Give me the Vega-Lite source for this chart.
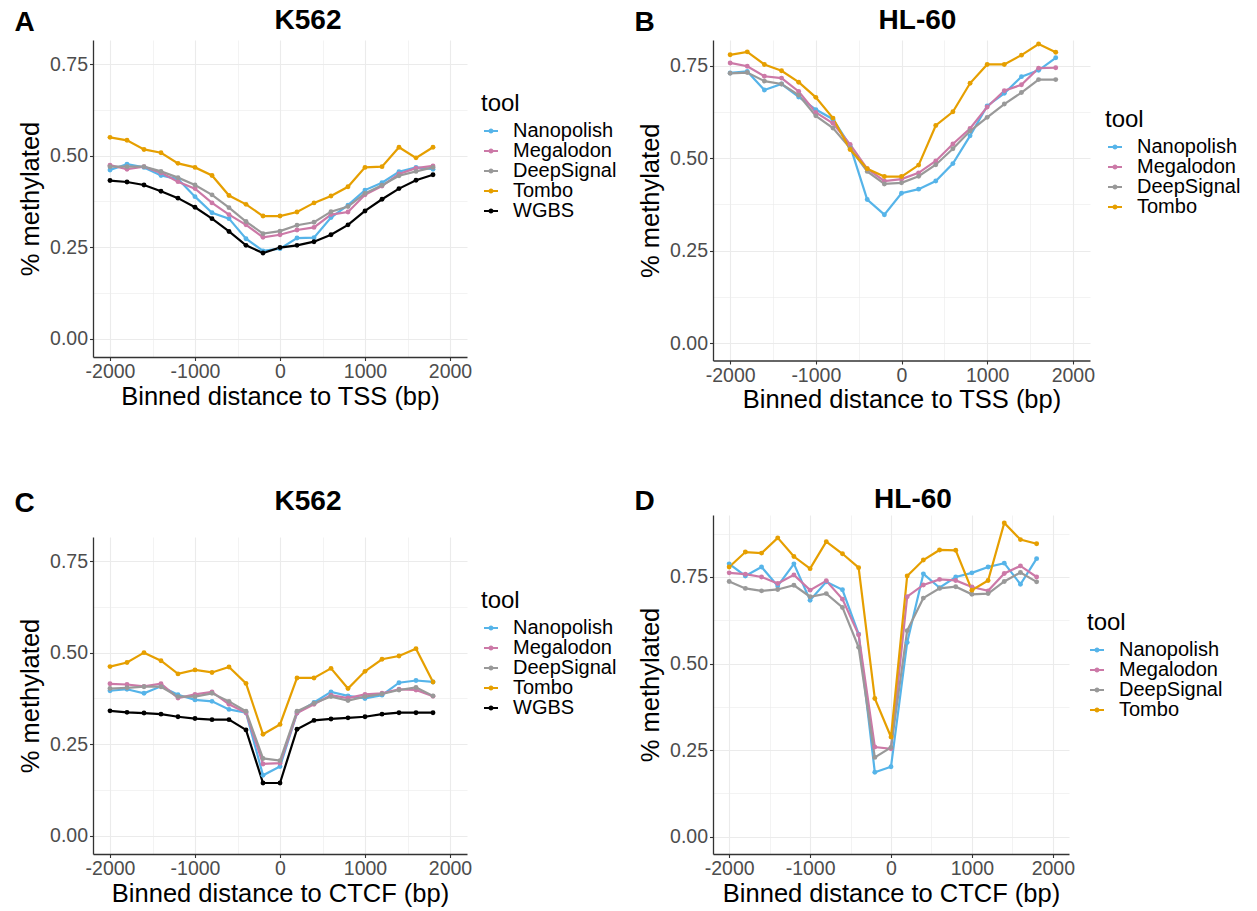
{
  "$schema": "https://vega.github.io/schema/vega-lite/v6.json",
  "padding": {"left": 14, "top": 6, "right": 0, "bottom": 0},
  "datasets": {
    "A": [
      {"dist":-2000,"tool":"Nanopolish","meth":0.461},{"dist":-1800,"tool":"Nanopolish","meth":0.477},{"dist":-1600,"tool":"Nanopolish","meth":0.468},{"dist":-1400,"tool":"Nanopolish","meth":0.446},{"dist":-1200,"tool":"Nanopolish","meth":0.436},{"dist":-1000,"tool":"Nanopolish","meth":0.388},{"dist":-800,"tool":"Nanopolish","meth":0.344},{"dist":-600,"tool":"Nanopolish","meth":0.328},{"dist":-400,"tool":"Nanopolish","meth":0.273},{"dist":-200,"tool":"Nanopolish","meth":0.240},{"dist":0,"tool":"Nanopolish","meth":0.246},{"dist":200,"tool":"Nanopolish","meth":0.275},{"dist":400,"tool":"Nanopolish","meth":0.276},{"dist":600,"tool":"Nanopolish","meth":0.331},{"dist":800,"tool":"Nanopolish","meth":0.365},{"dist":1000,"tool":"Nanopolish","meth":0.406},{"dist":1200,"tool":"Nanopolish","meth":0.426},{"dist":1400,"tool":"Nanopolish","meth":0.456},{"dist":1600,"tool":"Nanopolish","meth":0.468},{"dist":1800,"tool":"Nanopolish","meth":0.463},
      {"dist":-2000,"tool":"Megalodon","meth":0.474},{"dist":-1800,"tool":"Megalodon","meth":0.463},{"dist":-1600,"tool":"Megalodon","meth":0.470},{"dist":-1400,"tool":"Megalodon","meth":0.453},{"dist":-1200,"tool":"Megalodon","meth":0.429},{"dist":-1000,"tool":"Megalodon","meth":0.410},{"dist":-800,"tool":"Megalodon","meth":0.371},{"dist":-600,"tool":"Megalodon","meth":0.339},{"dist":-400,"tool":"Megalodon","meth":0.311},{"dist":-200,"tool":"Megalodon","meth":0.277},{"dist":0,"tool":"Megalodon","meth":0.284},{"dist":200,"tool":"Megalodon","meth":0.297},{"dist":400,"tool":"Megalodon","meth":0.304},{"dist":600,"tool":"Megalodon","meth":0.339},{"dist":800,"tool":"Megalodon","meth":0.346},{"dist":1000,"tool":"Megalodon","meth":0.393},{"dist":1200,"tool":"Megalodon","meth":0.417},{"dist":1400,"tool":"Megalodon","meth":0.450},{"dist":1600,"tool":"Megalodon","meth":0.466},{"dist":1800,"tool":"Megalodon","meth":0.472},
      {"dist":-2000,"tool":"DeepSignal","meth":0.470},{"dist":-1800,"tool":"DeepSignal","meth":0.470},{"dist":-1600,"tool":"DeepSignal","meth":0.470},{"dist":-1400,"tool":"DeepSignal","meth":0.457},{"dist":-1200,"tool":"DeepSignal","meth":0.440},{"dist":-1000,"tool":"DeepSignal","meth":0.420},{"dist":-800,"tool":"DeepSignal","meth":0.393},{"dist":-600,"tool":"DeepSignal","meth":0.358},{"dist":-400,"tool":"DeepSignal","meth":0.320},{"dist":-200,"tool":"DeepSignal","meth":0.287},{"dist":0,"tool":"DeepSignal","meth":0.294},{"dist":200,"tool":"DeepSignal","meth":0.310},{"dist":400,"tool":"DeepSignal","meth":0.318},{"dist":600,"tool":"DeepSignal","meth":0.347},{"dist":800,"tool":"DeepSignal","meth":0.361},{"dist":1000,"tool":"DeepSignal","meth":0.397},{"dist":1200,"tool":"DeepSignal","meth":0.419},{"dist":1400,"tool":"DeepSignal","meth":0.445},{"dist":1600,"tool":"DeepSignal","meth":0.457},{"dist":1800,"tool":"DeepSignal","meth":0.468},
      {"dist":-2000,"tool":"Tombo","meth":0.550},{"dist":-1800,"tool":"Tombo","meth":0.542},{"dist":-1600,"tool":"Tombo","meth":0.517},{"dist":-1400,"tool":"Tombo","meth":0.508},{"dist":-1200,"tool":"Tombo","meth":0.479},{"dist":-1000,"tool":"Tombo","meth":0.468},{"dist":-800,"tool":"Tombo","meth":0.446},{"dist":-600,"tool":"Tombo","meth":0.391},{"dist":-400,"tool":"Tombo","meth":0.367},{"dist":-200,"tool":"Tombo","meth":0.335},{"dist":0,"tool":"Tombo","meth":0.335},{"dist":200,"tool":"Tombo","meth":0.346},{"dist":400,"tool":"Tombo","meth":0.371},{"dist":600,"tool":"Tombo","meth":0.390},{"dist":800,"tool":"Tombo","meth":0.415},{"dist":1000,"tool":"Tombo","meth":0.468},{"dist":1200,"tool":"Tombo","meth":0.470},{"dist":1400,"tool":"Tombo","meth":0.523},{"dist":1600,"tool":"Tombo","meth":0.494},{"dist":1800,"tool":"Tombo","meth":0.523},
      {"dist":-2000,"tool":"WGBS","meth":0.432},{"dist":-1800,"tool":"WGBS","meth":0.428},{"dist":-1600,"tool":"WGBS","meth":0.420},{"dist":-1400,"tool":"WGBS","meth":0.403},{"dist":-1200,"tool":"WGBS","meth":0.384},{"dist":-1000,"tool":"WGBS","meth":0.359},{"dist":-800,"tool":"WGBS","meth":0.328},{"dist":-600,"tool":"WGBS","meth":0.293},{"dist":-400,"tool":"WGBS","meth":0.255},{"dist":-200,"tool":"WGBS","meth":0.234},{"dist":0,"tool":"WGBS","meth":0.249},{"dist":200,"tool":"WGBS","meth":0.255},{"dist":400,"tool":"WGBS","meth":0.265},{"dist":600,"tool":"WGBS","meth":0.284},{"dist":800,"tool":"WGBS","meth":0.311},{"dist":1000,"tool":"WGBS","meth":0.349},{"dist":1200,"tool":"WGBS","meth":0.381},{"dist":1400,"tool":"WGBS","meth":0.410},{"dist":1600,"tool":"WGBS","meth":0.433},{"dist":1800,"tool":"WGBS","meth":0.448}
    ],
    "B": [
      {"dist":-2000,"tool":"Nanopolish","meth":0.730},{"dist":-1800,"tool":"Nanopolish","meth":0.734},{"dist":-1600,"tool":"Nanopolish","meth":0.684},{"dist":-1400,"tool":"Nanopolish","meth":0.700},{"dist":-1200,"tool":"Nanopolish","meth":0.665},{"dist":-1000,"tool":"Nanopolish","meth":0.631},{"dist":-800,"tool":"Nanopolish","meth":0.605},{"dist":-600,"tool":"Nanopolish","meth":0.533},{"dist":-400,"tool":"Nanopolish","meth":0.388},{"dist":-200,"tool":"Nanopolish","meth":0.347},{"dist":0,"tool":"Nanopolish","meth":0.405},{"dist":200,"tool":"Nanopolish","meth":0.416},{"dist":400,"tool":"Nanopolish","meth":0.438},{"dist":600,"tool":"Nanopolish","meth":0.485},{"dist":800,"tool":"Nanopolish","meth":0.560},{"dist":1000,"tool":"Nanopolish","meth":0.641},{"dist":1200,"tool":"Nanopolish","meth":0.675},{"dist":1400,"tool":"Nanopolish","meth":0.720},{"dist":1600,"tool":"Nanopolish","meth":0.737},{"dist":1800,"tool":"Nanopolish","meth":0.771},
      {"dist":-2000,"tool":"Megalodon","meth":0.757},{"dist":-1800,"tool":"Megalodon","meth":0.748},{"dist":-1600,"tool":"Megalodon","meth":0.721},{"dist":-1400,"tool":"Megalodon","meth":0.716},{"dist":-1200,"tool":"Megalodon","meth":0.680},{"dist":-1000,"tool":"Megalodon","meth":0.623},{"dist":-800,"tool":"Megalodon","meth":0.594},{"dist":-600,"tool":"Megalodon","meth":0.537},{"dist":-400,"tool":"Megalodon","meth":0.471},{"dist":-200,"tool":"Megalodon","meth":0.438},{"dist":0,"tool":"Megalodon","meth":0.443},{"dist":200,"tool":"Megalodon","meth":0.460},{"dist":400,"tool":"Megalodon","meth":0.492},{"dist":600,"tool":"Megalodon","meth":0.538},{"dist":800,"tool":"Megalodon","meth":0.580},{"dist":1000,"tool":"Megalodon","meth":0.638},{"dist":1200,"tool":"Megalodon","meth":0.682},{"dist":1400,"tool":"Megalodon","meth":0.698},{"dist":1600,"tool":"Megalodon","meth":0.743},{"dist":1800,"tool":"Megalodon","meth":0.744},
      {"dist":-2000,"tool":"DeepSignal","meth":0.729},{"dist":-1800,"tool":"DeepSignal","meth":0.731},{"dist":-1600,"tool":"DeepSignal","meth":0.708},{"dist":-1400,"tool":"DeepSignal","meth":0.700},{"dist":-1200,"tool":"DeepSignal","meth":0.670},{"dist":-1000,"tool":"DeepSignal","meth":0.614},{"dist":-800,"tool":"DeepSignal","meth":0.581},{"dist":-600,"tool":"DeepSignal","meth":0.527},{"dist":-400,"tool":"DeepSignal","meth":0.464},{"dist":-200,"tool":"DeepSignal","meth":0.430},{"dist":0,"tool":"DeepSignal","meth":0.433},{"dist":200,"tool":"DeepSignal","meth":0.451},{"dist":400,"tool":"DeepSignal","meth":0.482},{"dist":600,"tool":"DeepSignal","meth":0.525},{"dist":800,"tool":"DeepSignal","meth":0.573},{"dist":1000,"tool":"DeepSignal","meth":0.610},{"dist":1200,"tool":"DeepSignal","meth":0.646},{"dist":1400,"tool":"DeepSignal","meth":0.677},{"dist":1600,"tool":"DeepSignal","meth":0.712},{"dist":1800,"tool":"DeepSignal","meth":0.712},
      {"dist":-2000,"tool":"Tombo","meth":0.779},{"dist":-1800,"tool":"Tombo","meth":0.787},{"dist":-1600,"tool":"Tombo","meth":0.753},{"dist":-1400,"tool":"Tombo","meth":0.736},{"dist":-1200,"tool":"Tombo","meth":0.705},{"dist":-1000,"tool":"Tombo","meth":0.664},{"dist":-800,"tool":"Tombo","meth":0.608},{"dist":-600,"tool":"Tombo","meth":0.523},{"dist":-400,"tool":"Tombo","meth":0.471},{"dist":-200,"tool":"Tombo","meth":0.450},{"dist":0,"tool":"Tombo","meth":0.450},{"dist":200,"tool":"Tombo","meth":0.481},{"dist":400,"tool":"Tombo","meth":0.588},{"dist":600,"tool":"Tombo","meth":0.625},{"dist":800,"tool":"Tombo","meth":0.702},{"dist":1000,"tool":"Tombo","meth":0.753},{"dist":1200,"tool":"Tombo","meth":0.753},{"dist":1400,"tool":"Tombo","meth":0.778},{"dist":1600,"tool":"Tombo","meth":0.808},{"dist":1800,"tool":"Tombo","meth":0.786}
    ],
    "C": [
      {"dist":-2000,"tool":"Nanopolish","meth":0.396},{"dist":-1800,"tool":"Nanopolish","meth":0.400},{"dist":-1600,"tool":"Nanopolish","meth":0.389},{"dist":-1400,"tool":"Nanopolish","meth":0.408},{"dist":-1200,"tool":"Nanopolish","meth":0.385},{"dist":-1000,"tool":"Nanopolish","meth":0.371},{"dist":-800,"tool":"Nanopolish","meth":0.367},{"dist":-600,"tool":"Nanopolish","meth":0.345},{"dist":-400,"tool":"Nanopolish","meth":0.336},{"dist":-200,"tool":"Nanopolish","meth":0.165},{"dist":0,"tool":"Nanopolish","meth":0.189},{"dist":200,"tool":"Nanopolish","meth":0.335},{"dist":400,"tool":"Nanopolish","meth":0.364},{"dist":600,"tool":"Nanopolish","meth":0.393},{"dist":800,"tool":"Nanopolish","meth":0.382},{"dist":1000,"tool":"Nanopolish","meth":0.375},{"dist":1200,"tool":"Nanopolish","meth":0.384},{"dist":1400,"tool":"Nanopolish","meth":0.418},{"dist":1600,"tool":"Nanopolish","meth":0.424},{"dist":1800,"tool":"Nanopolish","meth":0.420},
      {"dist":-2000,"tool":"Megalodon","meth":0.415},{"dist":-1800,"tool":"Megalodon","meth":0.413},{"dist":-1600,"tool":"Megalodon","meth":0.408},{"dist":-1400,"tool":"Megalodon","meth":0.415},{"dist":-1200,"tool":"Megalodon","meth":0.376},{"dist":-1000,"tool":"Megalodon","meth":0.386},{"dist":-800,"tool":"Megalodon","meth":0.393},{"dist":-600,"tool":"Megalodon","meth":0.359},{"dist":-400,"tool":"Megalodon","meth":0.336},{"dist":-200,"tool":"Megalodon","meth":0.196},{"dist":0,"tool":"Megalodon","meth":0.198},{"dist":200,"tool":"Megalodon","meth":0.335},{"dist":400,"tool":"Megalodon","meth":0.359},{"dist":600,"tool":"Megalodon","meth":0.384},{"dist":800,"tool":"Megalodon","meth":0.376},{"dist":1000,"tool":"Megalodon","meth":0.386},{"dist":1200,"tool":"Megalodon","meth":0.389},{"dist":1400,"tool":"Megalodon","meth":0.400},{"dist":1600,"tool":"Megalodon","meth":0.398},{"dist":1800,"tool":"Megalodon","meth":0.381},
      {"dist":-2000,"tool":"DeepSignal","meth":0.402},{"dist":-1800,"tool":"DeepSignal","meth":0.404},{"dist":-1600,"tool":"DeepSignal","meth":0.407},{"dist":-1400,"tool":"DeepSignal","meth":0.407},{"dist":-1200,"tool":"DeepSignal","meth":0.380},{"dist":-1000,"tool":"DeepSignal","meth":0.380},{"dist":-800,"tool":"DeepSignal","meth":0.389},{"dist":-600,"tool":"DeepSignal","meth":0.367},{"dist":-400,"tool":"DeepSignal","meth":0.340},{"dist":-200,"tool":"DeepSignal","meth":0.211},{"dist":0,"tool":"DeepSignal","meth":0.205},{"dist":200,"tool":"DeepSignal","meth":0.340},{"dist":400,"tool":"DeepSignal","meth":0.362},{"dist":600,"tool":"DeepSignal","meth":0.380},{"dist":800,"tool":"DeepSignal","meth":0.369},{"dist":1000,"tool":"DeepSignal","meth":0.380},{"dist":1200,"tool":"DeepSignal","meth":0.387},{"dist":1400,"tool":"DeepSignal","meth":0.398},{"dist":1600,"tool":"DeepSignal","meth":0.405},{"dist":1800,"tool":"DeepSignal","meth":0.382},
      {"dist":-2000,"tool":"Tombo","meth":0.462},{"dist":-1800,"tool":"Tombo","meth":0.473},{"dist":-1600,"tool":"Tombo","meth":0.500},{"dist":-1400,"tool":"Tombo","meth":0.478},{"dist":-1200,"tool":"Tombo","meth":0.442},{"dist":-1000,"tool":"Tombo","meth":0.453},{"dist":-800,"tool":"Tombo","meth":0.446},{"dist":-600,"tool":"Tombo","meth":0.461},{"dist":-400,"tool":"Tombo","meth":0.416},{"dist":-200,"tool":"Tombo","meth":0.277},{"dist":0,"tool":"Tombo","meth":0.304},{"dist":200,"tool":"Tombo","meth":0.431},{"dist":400,"tool":"Tombo","meth":0.431},{"dist":600,"tool":"Tombo","meth":0.457},{"dist":800,"tool":"Tombo","meth":0.402},{"dist":1000,"tool":"Tombo","meth":0.449},{"dist":1200,"tool":"Tombo","meth":0.482},{"dist":1400,"tool":"Tombo","meth":0.491},{"dist":1600,"tool":"Tombo","meth":0.511},{"dist":1800,"tool":"Tombo","meth":0.420},
      {"dist":-2000,"tool":"WGBS","meth":0.341},{"dist":-1800,"tool":"WGBS","meth":0.337},{"dist":-1600,"tool":"WGBS","meth":0.335},{"dist":-1400,"tool":"WGBS","meth":0.332},{"dist":-1200,"tool":"WGBS","meth":0.325},{"dist":-1000,"tool":"WGBS","meth":0.320},{"dist":-800,"tool":"WGBS","meth":0.317},{"dist":-600,"tool":"WGBS","meth":0.317},{"dist":-400,"tool":"WGBS","meth":0.289},{"dist":-200,"tool":"WGBS","meth":0.144},{"dist":0,"tool":"WGBS","meth":0.144},{"dist":200,"tool":"WGBS","meth":0.291},{"dist":400,"tool":"WGBS","meth":0.315},{"dist":600,"tool":"WGBS","meth":0.319},{"dist":800,"tool":"WGBS","meth":0.322},{"dist":1000,"tool":"WGBS","meth":0.325},{"dist":1200,"tool":"WGBS","meth":0.332},{"dist":1400,"tool":"WGBS","meth":0.336},{"dist":1600,"tool":"WGBS","meth":0.336},{"dist":1800,"tool":"WGBS","meth":0.336}
    ],
    "D": [
      {"dist":-2000,"tool":"Nanopolish","meth":0.788},{"dist":-1800,"tool":"Nanopolish","meth":0.753},{"dist":-1600,"tool":"Nanopolish","meth":0.779},{"dist":-1400,"tool":"Nanopolish","meth":0.724},{"dist":-1200,"tool":"Nanopolish","meth":0.788},{"dist":-1000,"tool":"Nanopolish","meth":0.683},{"dist":-800,"tool":"Nanopolish","meth":0.736},{"dist":-600,"tool":"Nanopolish","meth":0.713},{"dist":-400,"tool":"Nanopolish","meth":0.585},{"dist":-200,"tool":"Nanopolish","meth":0.186},{"dist":0,"tool":"Nanopolish","meth":0.202},{"dist":200,"tool":"Nanopolish","meth":0.561},{"dist":400,"tool":"Nanopolish","meth":0.759},{"dist":600,"tool":"Nanopolish","meth":0.719},{"dist":800,"tool":"Nanopolish","meth":0.750},{"dist":1000,"tool":"Nanopolish","meth":0.762},{"dist":1200,"tool":"Nanopolish","meth":0.779},{"dist":1400,"tool":"Nanopolish","meth":0.790},{"dist":1600,"tool":"Nanopolish","meth":0.729},{"dist":1800,"tool":"Nanopolish","meth":0.803},
      {"dist":-2000,"tool":"Megalodon","meth":0.762},{"dist":-1800,"tool":"Megalodon","meth":0.758},{"dist":-1600,"tool":"Megalodon","meth":0.750},{"dist":-1400,"tool":"Megalodon","meth":0.731},{"dist":-1200,"tool":"Megalodon","meth":0.756},{"dist":-1000,"tool":"Megalodon","meth":0.712},{"dist":-800,"tool":"Megalodon","meth":0.739},{"dist":-600,"tool":"Megalodon","meth":0.686},{"dist":-400,"tool":"Megalodon","meth":0.583},{"dist":-200,"tool":"Megalodon","meth":0.259},{"dist":0,"tool":"Megalodon","meth":0.254},{"dist":200,"tool":"Megalodon","meth":0.693},{"dist":400,"tool":"Megalodon","meth":0.727},{"dist":600,"tool":"Megalodon","meth":0.743},{"dist":800,"tool":"Megalodon","meth":0.740},{"dist":1000,"tool":"Megalodon","meth":0.721},{"dist":1200,"tool":"Megalodon","meth":0.710},{"dist":1400,"tool":"Megalodon","meth":0.760},{"dist":1600,"tool":"Megalodon","meth":0.782},{"dist":1800,"tool":"Megalodon","meth":0.750},
      {"dist":-2000,"tool":"DeepSignal","meth":0.737},{"dist":-1800,"tool":"DeepSignal","meth":0.717},{"dist":-1600,"tool":"DeepSignal","meth":0.710},{"dist":-1400,"tool":"DeepSignal","meth":0.714},{"dist":-1200,"tool":"DeepSignal","meth":0.726},{"dist":-1000,"tool":"DeepSignal","meth":0.693},{"dist":-800,"tool":"DeepSignal","meth":0.702},{"dist":-600,"tool":"DeepSignal","meth":0.662},{"dist":-400,"tool":"DeepSignal","meth":0.547},{"dist":-200,"tool":"DeepSignal","meth":0.229},{"dist":0,"tool":"DeepSignal","meth":0.258},{"dist":200,"tool":"DeepSignal","meth":0.595},{"dist":400,"tool":"DeepSignal","meth":0.689},{"dist":600,"tool":"DeepSignal","meth":0.717},{"dist":800,"tool":"DeepSignal","meth":0.722},{"dist":1000,"tool":"DeepSignal","meth":0.700},{"dist":1200,"tool":"DeepSignal","meth":0.702},{"dist":1400,"tool":"DeepSignal","meth":0.737},{"dist":1600,"tool":"DeepSignal","meth":0.763},{"dist":1800,"tool":"DeepSignal","meth":0.736},
      {"dist":-2000,"tool":"Tombo","meth":0.779},{"dist":-1800,"tool":"Tombo","meth":0.822},{"dist":-1600,"tool":"Tombo","meth":0.819},{"dist":-1400,"tool":"Tombo","meth":0.863},{"dist":-1200,"tool":"Tombo","meth":0.809},{"dist":-1000,"tool":"Tombo","meth":0.774},{"dist":-800,"tool":"Tombo","meth":0.852},{"dist":-600,"tool":"Tombo","meth":0.817},{"dist":-400,"tool":"Tombo","meth":0.777},{"dist":-200,"tool":"Tombo","meth":0.399},{"dist":0,"tool":"Tombo","meth":0.288},{"dist":200,"tool":"Tombo","meth":0.753},{"dist":400,"tool":"Tombo","meth":0.799},{"dist":600,"tool":"Tombo","meth":0.828},{"dist":800,"tool":"Tombo","meth":0.827},{"dist":1000,"tool":"Tombo","meth":0.712},{"dist":1200,"tool":"Tombo","meth":0.740},{"dist":1400,"tool":"Tombo","meth":0.906},{"dist":1600,"tool":"Tombo","meth":0.858},{"dist":1800,"tool":"Tombo","meth":0.846}
    ]
  },
  "hconcat": [
    {
      "vconcat": [
        {
          "title": {"text": "A", "anchor": "start", "frame": "bounds", "offset": -30, "dx": -4},
          "vconcat": [{
            "width": 374, "height": 317,
            "title": {"text": "K562", "anchor": "middle", "frame": "group", "dx": 28, "offset": 5},
            "data": {"name": "A"},
            "encoding": {
              "x": {"field": "dist", "type": "quantitative", "scale": {"domain": [-2200, 2200], "nice": false, "zero": false},
                "axis": {"title": "Binned distance to TSS (bp)", "values": [-2000,-1500,-1000,-500,0,500,1000,1500,2000], "labelExpr": "datum.value % 1000 == 0 ? '' + datum.value : ''", "gridWidth": {"condition": {"test": "datum.value % 1000 != 0", "value": 0.6}, "value": 1.1}, "tickColor": {"condition": {"test": "datum.value % 1000 != 0", "value": "transparent"}, "value": "#333333"}}},
              "y": {"field": "meth", "type": "quantitative", "scale": {"domain": [-0.05, 0.816], "nice": false, "zero": false},
                "axis": {"title": "% methylated", "values": [0,0.125,0.25,0.375,0.5,0.625,0.75], "labelExpr": "(datum.value*4) % 1 == 0 ? format(datum.value, '.2f') : ''", "gridWidth": {"condition": {"test": "(datum.value*4) % 1 != 0", "value": 0.6}, "value": 1.1}, "tickColor": {"condition": {"test": "(datum.value*4) % 1 != 0", "value": "transparent"}, "value": "#333333"}}},
              "color": {"field": "tool", "type": "nominal", "scale": {"domain": ["Nanopolish","Megalodon","DeepSignal","Tombo","WGBS"], "range": ["#56B4E9","#CC79A7","#999999","#E69F00","#000000"]},
                "legend": {"title": "tool", "orient": "none", "legendX": 388, "legendY": 52}}
            },
            "layer": [
              {"mark": {"type": "line", "strokeWidth": 2.2}},
              {"mark": {"type": "point", "filled": true, "size": 24, "opacity": 1}}
            ]
          }]
        },
        {
          "title": {"text": "C", "anchor": "start", "frame": "bounds", "offset": -30, "dx": -4},
          "vconcat": [{
            "width": 374, "height": 317,
            "title": {"text": "K562", "anchor": "middle", "frame": "group", "dx": 28, "offset": 21},
            "data": {"name": "C"},
            "encoding": {
              "x": {"field": "dist", "type": "quantitative", "scale": {"domain": [-2200, 2200], "nice": false, "zero": false},
                "axis": {"title": "Binned distance to CTCF (bp)", "values": [-2000,-1500,-1000,-500,0,500,1000,1500,2000], "labelExpr": "datum.value % 1000 == 0 ? '' + datum.value : ''", "gridWidth": {"condition": {"test": "datum.value % 1000 != 0", "value": 0.6}, "value": 1.1}, "tickColor": {"condition": {"test": "datum.value % 1000 != 0", "value": "transparent"}, "value": "#333333"}}},
              "y": {"field": "meth", "type": "quantitative", "scale": {"domain": [-0.05, 0.816], "nice": false, "zero": false},
                "axis": {"title": "% methylated", "values": [0,0.125,0.25,0.375,0.5,0.625,0.75], "labelExpr": "(datum.value*4) % 1 == 0 ? format(datum.value, '.2f') : ''", "gridWidth": {"condition": {"test": "(datum.value*4) % 1 != 0", "value": 0.6}, "value": 1.1}, "tickColor": {"condition": {"test": "(datum.value*4) % 1 != 0", "value": "transparent"}, "value": "#333333"}}},
              "color": {"field": "tool", "type": "nominal", "scale": {"domain": ["Nanopolish","Megalodon","DeepSignal","Tombo","WGBS"], "range": ["#56B4E9","#CC79A7","#999999","#E69F00","#000000"]},
                "legend": {"title": "tool", "orient": "none", "legendX": 388, "legendY": 52}}
            },
            "layer": [
              {"mark": {"type": "line", "strokeWidth": 2.2}},
              {"mark": {"type": "point", "filled": true, "size": 24, "opacity": 1}}
            ]
          }]
        }
      ],
      "spacing": 78,
      "align": "none",
      "resolve": {"scale": {"color": "independent", "x": "independent", "y": "independent"}, "legend": {"color": "independent"}}
    },
    {
      "vconcat": [
        {
          "title": {"text": "B", "anchor": "start", "frame": "bounds", "offset": -30, "dx": -4},
          "vconcat": [{
            "width": 377, "height": 320.5,
            "title": {"text": "HL-60", "anchor": "middle", "frame": "group", "dx": 16, "offset": 5},
            "data": {"name": "B"},
            "encoding": {
              "x": {"field": "dist", "type": "quantitative", "scale": {"domain": [-2200, 2200], "nice": false, "zero": false},
                "axis": {"title": "Binned distance to TSS (bp)", "values": [-2000,-1500,-1000,-500,0,500,1000,1500,2000], "labelExpr": "datum.value % 1000 == 0 ? '' + datum.value : ''", "gridWidth": {"condition": {"test": "datum.value % 1000 != 0", "value": 0.6}, "value": 1.1}, "tickColor": {"condition": {"test": "datum.value % 1000 != 0", "value": "transparent"}, "value": "#333333"}}},
              "y": {"field": "meth", "type": "quantitative", "scale": {"domain": [-0.047, 0.819], "nice": false, "zero": false},
                "axis": {"title": "% methylated", "values": [0,0.125,0.25,0.375,0.5,0.625,0.75], "labelExpr": "(datum.value*4) % 1 == 0 ? format(datum.value, '.2f') : ''", "gridWidth": {"condition": {"test": "(datum.value*4) % 1 != 0", "value": 0.6}, "value": 1.1}, "tickColor": {"condition": {"test": "(datum.value*4) % 1 != 0", "value": "transparent"}, "value": "#333333"}}},
              "color": {"field": "tool", "type": "nominal", "scale": {"domain": ["Nanopolish","Megalodon","DeepSignal","Tombo"], "range": ["#56B4E9","#CC79A7","#999999","#E69F00"]},
                "legend": {"title": "tool", "orient": "none", "legendX": 392, "legendY": 68}}
            },
            "layer": [
              {"mark": {"type": "line", "strokeWidth": 2.2}},
              {"mark": {"type": "point", "filled": true, "size": 24, "opacity": 1}}
            ]
          }]
        },
        {
          "title": {"text": "D", "anchor": "start", "frame": "bounds", "offset": -30, "dx": -4},
          "vconcat": [{
            "width": 356, "height": 339,
            "title": {"text": "HL-60", "anchor": "middle", "frame": "group", "dx": 22, "offset": 1},
            "data": {"name": "D"},
            "encoding": {
              "x": {"field": "dist", "type": "quantitative", "scale": {"domain": [-2200, 2200], "nice": false, "zero": false},
                "axis": {"title": "Binned distance to CTCF (bp)", "values": [-2000,-1500,-1000,-500,0,500,1000,1500,2000], "labelExpr": "datum.value % 1000 == 0 ? '' + datum.value : ''", "gridWidth": {"condition": {"test": "datum.value % 1000 != 0", "value": 0.6}, "value": 1.1}, "tickColor": {"condition": {"test": "datum.value % 1000 != 0", "value": "transparent"}, "value": "#333333"}}},
              "y": {"field": "meth", "type": "quantitative", "scale": {"domain": [-0.05, 0.929], "nice": false, "zero": false},
                "axis": {"title": "% methylated", "values": [0,0.125,0.25,0.375,0.5,0.625,0.75,0.875], "labelExpr": "(datum.value*4) % 1 == 0 ? format(datum.value, '.2f') : ''", "gridWidth": {"condition": {"test": "(datum.value*4) % 1 != 0", "value": 0.6}, "value": 1.1}, "tickColor": {"condition": {"test": "(datum.value*4) % 1 != 0", "value": "transparent"}, "value": "#333333"}}},
              "color": {"field": "tool", "type": "nominal", "scale": {"domain": ["Nanopolish","Megalodon","DeepSignal","Tombo"], "range": ["#56B4E9","#CC79A7","#999999","#E69F00"]},
                "legend": {"title": "tool", "orient": "none", "legendX": 374, "legendY": 96}}
            },
            "layer": [
              {"mark": {"type": "line", "strokeWidth": 2.2}},
              {"mark": {"type": "point", "filled": true, "size": 24, "opacity": 1}}
            ]
          }]
        }
      ],
      "spacing": 73,
      "align": "none",
      "resolve": {"scale": {"color": "independent", "x": "independent", "y": "independent"}, "legend": {"color": "independent"}}
    }
  ],
  "spacing": 17,
  "align": "none",
  "resolve": {"scale": {"color": "independent", "x": "independent", "y": "independent"}, "legend": {"color": "independent"}},
  "config": {
    "font": "Liberation Sans",
    "view": {"stroke": null},
    "title": {"font": "Liberation Sans", "fontSize": 28, "fontWeight": "bold", "color": "#000000"},
    "axis": {"domainColor": "#333333", "domainWidth": 1.3, "tickSize": 3.5, "tickWidth": 1.1, "labelFontSize": 19.5, "labelColor": "#4d4d4d", "labelPadding": 2, "titleFontSize": 25.5, "titleFontWeight": "normal", "titleColor": "#000000", "gridColor": "#ebebeb", "labelFlush": false, "labelOverlap": false, "labelFont": "Liberation Sans", "titleFont": "Liberation Sans"},
    "axisX": {"titlePadding": 3},
    "axisY": {"titlePadding": 6},
    "legend": {"titleFontSize": 24, "titleFontWeight": "normal", "titleColor": "#000000", "titleFont": "Liberation Sans", "labelFont": "Liberation Sans", "labelFontSize": 20, "labelColor": "#000000", "symbolType": "M-1,-0.15L1,-0.15L1,0.15L-1,0.15Z M-0.36,0A0.36,0.36 0 1,1 0.36,0A0.36,0.36 0 1,1 -0.36,0Z", "symbolSize": 196, "symbolStrokeWidth": 0, "rowPadding": -1, "titlePadding": 5, "labelOffset": 12, "padding": 0}
  }
}
